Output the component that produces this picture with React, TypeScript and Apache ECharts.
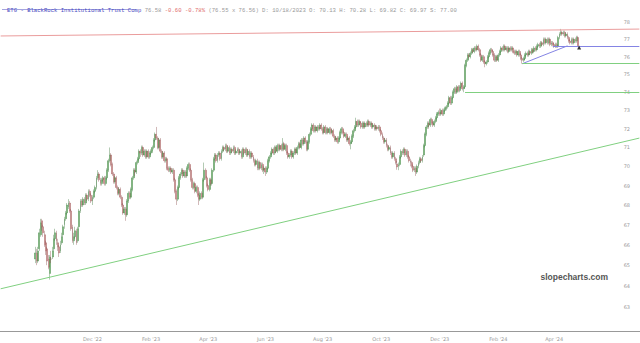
import React, { useEffect, useRef } from 'react';
import * as echarts from 'echarts';

type Candle = [number, number, number, number]; // open, high, low, close

const oct22: Candle[] = [
  [65.3,65.9,65.1,65.6],[65.6,65.8,65.0,65.2],[65.2,65.9,65.1,65.7],[65.8,66.8,65.7,66.6],[66.5,67.3,66.4,67.1],[67.2,67.3,66.7,66.9],[66.9,67.0,66.4,66.6],[66.5,66.7,65.9,66.0],[66.1,66.2,65.5,65.7],[65.8,65.9,65.0,65.2],[65.3,65.5,64.8,64.9],[64.6,65.5,64.3,65.4],[65.3,65.7,65.1,65.3],[65.4,65.9,65.3,65.7],[65.8,66.5,65.7,66.3],[66.3,66.8,66.2,66.6],[66.6,66.7,66.0,66.2],[66.1,66.3,65.7,65.9],[65.9,66.0,65.4,65.6],[65.7,66.2,65.6,66.0],[66.1,66.6,66.0,66.4],
];
const nov22: Candle[] = [
  [66.5,67.0,66.4,66.9],[67.0,67.4,66.8,67.3],[67.3,67.7,67.2,67.6],[67.6,68.1,67.5,68.0],[67.9,68.3,67.8,68.1],[68.1,68.2,67.6,67.7],[67.7,67.8,66.7,66.8],[66.9,67.0,66.1,66.2],[66.2,66.6,66.0,66.4],[66.4,66.9,66.3,66.7],[66.7,66.8,66.0,66.1],[66.2,66.9,66.1,66.8],[66.9,67.8,66.8,67.7],[67.7,68.3,67.6,68.2],[68.2,68.3,67.9,68.0],[68.0,68.4,67.9,68.3],[68.3,68.4,68.0,68.1],[68.1,68.6,68.0,68.5],[68.5,68.6,68.2,68.3],[68.3,68.8,68.2,68.7],[68.7,68.8,68.4,68.5],[68.5,68.6,68.1,68.2],
];
const dec22: Candle[] = [
  [68.2,68.5,68.0,68.4],[68.4,68.8,68.3,68.7],[68.7,69.0,68.6,68.9],[68.9,69.5,68.8,69.4],[69.4,69.8,69.3,69.6],[69.6,69.7,69.2,69.3],[69.3,69.4,69.0,69.1],[69.1,69.4,69.0,69.3],[69.3,69.5,69.2,69.4],[69.4,69.5,69.0,69.1],[69.1,69.5,69.0,69.4],[69.4,69.9,69.3,69.8],[69.8,70.4,69.7,70.3],[70.3,71.0,70.2,70.6],[70.6,70.7,70.0,70.1],[70.1,70.2,69.5,69.6],[69.6,69.7,69.1,69.2],[69.2,69.5,69.1,69.4],[69.4,69.5,68.8,68.9],[68.9,69.0,68.5,68.6],[68.6,68.9,68.5,68.8],[68.8,68.9,68.3,68.4],
];
const jan23: Candle[] = [
  [68.4,68.5,67.9,68.0],[68.0,68.1,67.5,67.6],[67.6,67.9,67.5,67.8],[67.8,67.9,67.2,67.5],[67.5,68.3,67.4,68.2],[68.2,68.7,68.1,68.6],[68.6,68.7,68.3,68.4],[68.4,68.9,68.3,68.8],[68.8,69.5,68.7,69.4],[69.4,69.9,69.3,69.8],[69.8,69.9,69.5,69.7],[69.7,70.3,69.6,70.2],[70.2,70.5,70.1,70.4],[70.4,70.9,70.3,70.8],[70.8,70.9,70.5,70.7],[70.7,71.1,70.6,71.0],[71.0,71.1,70.5,70.6],[70.6,70.9,70.5,70.8],[70.8,70.9,70.4,70.5],[70.5,70.9,70.4,70.8],[70.8,70.9,70.4,70.5],[70.5,70.8,70.4,70.7],
];
const feb23: Candle[] = [
  [70.7,70.9,70.6,70.8],[70.8,71.1,70.7,71.0],[71.0,71.5,70.9,71.4],[71.4,71.8,71.3,71.7],[71.7,72.1,71.4,71.5],[71.5,71.6,70.9,71.0],[71.0,71.5,70.9,71.4],[71.4,71.5,70.7,70.8],[70.8,70.9,70.4,70.5],[70.5,70.8,70.4,70.7],[70.7,70.8,70.2,70.3],[70.3,70.5,70.2,70.4],[70.4,70.5,69.8,69.9],[69.9,70.0,69.7,69.8],[69.8,70.0,69.7,69.9],[69.9,70.0,69.6,69.7],[69.7,69.9,69.6,69.8],[69.8,69.9,69.2,69.3],[69.3,69.4,68.6,68.7],[68.7,68.8,68.0,68.3],
];
const mar23: Candle[] = [
  [68.3,69.0,68.2,68.9],[68.9,69.5,68.8,69.4],[69.4,69.7,69.3,69.6],[69.6,69.9,69.5,69.8],[69.8,69.9,69.4,69.5],[69.5,69.8,69.4,69.7],[69.7,69.8,69.4,69.5],[69.5,70.0,69.4,69.9],[69.9,70.2,69.8,70.1],[70.1,70.2,69.7,69.8],[69.8,69.9,69.2,69.3],[69.3,69.4,68.8,68.9],[68.9,69.2,68.8,69.1],[69.1,69.2,68.6,68.7],[68.7,69.0,68.6,68.9],[68.9,69.0,68.4,68.5],[68.5,68.6,68.0,68.3],[68.3,68.7,68.2,68.6],[68.6,68.7,68.3,68.4],[68.4,69.4,68.3,69.3],[69.3,70.2,69.2,69.8],[69.8,69.9,69.3,69.4],[69.4,69.5,68.9,69.0],
];
const apr23: Candle[] = [
  [69.0,69.1,68.7,68.8],[68.8,69.4,68.7,69.3],[69.3,69.4,69.0,69.1],[69.1,69.9,69.0,69.8],[69.8,70.5,69.7,70.4],[70.4,70.7,70.3,70.6],[70.6,70.7,70.2,70.3],[70.3,70.7,70.2,70.6],[70.6,70.8,70.5,70.7],[70.7,70.8,70.3,70.4],[70.4,70.9,70.3,70.8],[70.8,71.1,70.7,71.0],[71.0,71.1,70.8,70.9],[70.9,71.2,70.8,71.1],[71.1,71.2,70.7,70.8],[70.8,71.1,70.7,71.0],[71.0,71.1,70.6,70.7],[70.7,71.0,70.6,70.9],[70.9,71.0,70.7,70.8],[70.8,71.1,70.7,71.0],
];
const may23: Candle[] = [
  [71.0,71.1,70.6,70.7],[70.7,70.9,70.6,70.8],[70.8,71.0,70.7,70.9],[70.9,71.0,70.6,70.7],[70.7,70.9,70.6,70.8],[70.8,70.9,70.4,70.5],[70.5,71.0,70.4,70.9],[70.9,71.0,70.6,70.7],[70.7,71.0,70.6,70.9],[70.9,71.0,70.5,70.6],[70.6,70.9,70.5,70.8],[70.8,70.9,70.4,70.5],[70.5,70.8,70.4,70.7],[70.7,70.8,70.4,70.5],[70.5,70.6,70.2,70.3],[70.3,70.4,70.0,70.1],[70.1,70.4,70.0,70.3],[70.3,70.4,69.8,69.9],[69.9,70.3,69.8,70.2],[70.2,70.3,69.8,69.9],[69.9,70.2,69.8,70.1],[70.1,70.2,69.7,69.8],[69.8,70.0,69.6,69.9],
];
const jun23: Candle[] = [
  [69.9,70.0,69.5,69.7],[69.7,70.0,69.6,69.9],[69.9,70.4,69.8,70.3],[70.3,70.6,70.2,70.5],[70.5,70.8,70.4,70.7],[70.7,71.0,70.6,70.9],[70.9,71.0,70.6,70.7],[70.7,71.1,70.6,71.0],[71.0,71.1,70.7,70.8],[70.8,71.2,70.7,71.1],[71.1,71.2,70.8,70.9],[70.9,71.2,70.8,71.1],[71.1,71.2,70.8,70.9],[70.9,71.5,70.8,71.2],[71.2,71.3,70.8,70.9],[70.9,71.2,70.8,71.1],[71.1,71.2,70.6,70.7],[70.7,70.8,70.4,70.5],[70.5,70.7,70.4,70.6],[70.6,70.9,70.5,70.8],[70.8,70.9,70.4,70.5],[70.5,70.8,70.4,70.7],
];
const jul23: Candle[] = [
  [70.7,71.0,70.6,70.9],[70.9,71.0,70.6,70.7],[70.7,71.1,70.6,71.0],[71.0,71.3,70.9,71.2],[71.2,71.3,70.9,71.0],[71.0,71.5,70.9,71.4],[71.4,71.5,71.1,71.2],[71.2,71.6,71.1,71.5],[71.5,71.6,71.2,71.3],[71.3,71.4,70.8,70.9],[70.9,71.4,70.8,71.3],[71.3,71.8,71.2,71.7],[71.7,72.1,71.6,72.0],[72.0,72.3,71.9,72.2],[72.2,72.3,71.8,71.9],[71.9,72.2,71.8,72.1],[72.1,72.2,71.8,71.9],[71.9,72.2,71.8,72.1],[72.1,72.2,71.9,72.0],[72.0,72.3,71.9,72.2],[72.2,72.3,71.9,72.0],
];
const aug23: Candle[] = [
  [72.0,72.1,71.7,71.8],[71.8,72.2,71.7,72.1],[72.1,72.2,71.7,71.8],[71.8,72.1,71.7,72.0],[72.0,72.1,71.7,71.8],[71.8,72.1,71.7,72.0],[72.0,72.1,71.7,71.8],[71.8,72.0,71.7,71.9],[71.9,72.0,71.5,71.6],[71.6,71.7,71.3,71.4],[71.4,71.6,71.3,71.5],[71.5,71.6,71.2,71.3],[71.3,71.6,71.2,71.5],[71.5,71.9,71.4,71.8],[71.8,72.1,71.7,72.0],[72.0,72.1,71.7,71.8],[71.8,71.9,71.5,71.6],[71.6,71.8,71.5,71.7],[71.7,71.8,71.3,71.4],[71.4,71.6,71.3,71.5],[71.5,71.6,71.1,71.2],[71.2,71.4,70.9,71.3],[71.3,71.7,71.2,71.6],
];
const sep23: Candle[] = [
  [71.6,72.0,71.5,71.9],[71.9,72.2,71.8,72.1],[72.1,72.6,72.0,72.4],[72.4,72.5,72.1,72.2],[72.2,72.5,72.1,72.4],[72.4,72.5,72.2,72.3],[72.3,72.4,72.0,72.1],[72.1,72.4,72.0,72.3],[72.3,72.4,72.0,72.1],[72.1,72.4,72.0,72.3],[72.3,72.4,72.1,72.2],[72.2,72.5,72.1,72.4],[72.4,72.5,72.1,72.2],[72.2,72.4,72.1,72.3],[72.3,72.4,72.0,72.1],[72.1,72.3,72.0,72.2],[72.2,72.3,71.9,72.0],[72.0,72.2,71.9,72.1],[72.1,72.2,71.9,72.0],[72.0,72.2,71.9,72.1],[72.1,72.2,71.8,71.9],
];
const oct23: Candle[] = [
  [71.9,72.0,71.6,71.7],[71.7,71.8,71.4,71.5],[71.5,71.6,71.2,71.3],[71.3,71.5,71.2,71.4],[71.4,71.5,71.0,71.1],[71.1,71.2,70.8,70.9],[70.9,71.1,70.8,71.0],[71.0,71.1,70.6,70.7],[70.7,70.8,70.4,70.5],[70.5,70.8,70.4,70.7],[70.7,70.8,70.3,70.4],[70.4,70.5,70.1,70.2],[70.13,70.28,69.82,69.97],[70.0,70.2,69.8,70.1],[70.1,70.6,70.0,70.5],[70.5,70.9,70.4,70.8],[70.8,70.9,70.6,70.7],[70.7,71.0,70.6,70.9],[70.9,71.0,70.5,70.6],[70.6,70.9,70.5,70.8],[70.8,70.9,70.4,70.5],[70.5,70.6,70.2,70.3],
];
const nov23: Candle[] = [
  [70.3,70.4,70.0,70.2],[70.2,70.3,69.9,70.0],[70.0,70.1,69.7,69.8],[69.8,70.0,69.7,69.9],[69.9,70.0,69.5,69.7],[69.7,70.1,69.6,70.0],[70.0,70.3,69.9,70.2],[70.2,70.5,70.1,70.4],[70.4,70.5,70.2,70.3],[70.3,70.6,70.2,70.5],[70.6,71.2,70.5,71.1],[71.1,71.8,71.0,71.7],[71.7,72.2,71.6,72.1],[72.1,72.4,72.0,72.3],[72.3,72.4,72.0,72.2],[72.2,72.6,72.1,72.5],[72.5,72.6,72.2,72.3],[72.3,72.4,72.1,72.2],[72.2,72.5,72.1,72.4],[72.4,72.7,72.3,72.6],[72.6,72.9,72.5,72.8],[72.8,73.0,72.7,72.9],
];
const dec23: Candle[] = [
  [72.9,73.1,72.7,72.8],[72.8,73.1,72.7,73.0],[73.0,73.1,72.7,72.8],[72.8,73.1,72.7,73.0],[73.0,73.2,72.9,73.1],[73.1,73.3,73.0,73.2],[73.2,73.5,73.1,73.4],[73.4,73.8,73.3,73.7],[73.7,73.8,73.3,73.4],[73.4,73.8,73.3,73.7],[73.7,74.1,73.6,74.0],[74.0,74.3,73.9,74.2],[74.2,74.3,73.9,74.0],[74.0,74.4,73.9,74.3],[74.3,74.4,74.0,74.1],[74.1,74.4,74.0,74.3],[74.3,74.6,74.2,74.5],[74.5,74.6,74.1,74.2],[74.2,74.4,74.0,74.3],[74.3,75.6,74.2,75.5],[75.5,75.9,75.4,75.8],
];
const jan24: Candle[] = [
  [75.8,76.2,75.7,76.1],[76.1,76.2,75.9,76.0],[76.0,76.3,75.9,76.2],[76.2,76.5,76.1,76.4],[76.4,76.5,76.2,76.3],[76.3,76.6,76.2,76.5],[76.5,76.6,76.3,76.4],[76.4,76.7,76.3,76.6],[76.6,76.7,76.3,76.4],[76.4,76.5,76.0,76.1],[76.1,76.2,75.7,75.8],[75.8,76.1,75.7,76.0],[76.0,76.1,75.6,75.7],[75.7,75.8,75.4,75.6],[75.6,75.8,75.5,75.7],[75.7,76.1,75.6,76.0],[76.0,76.3,75.9,76.2],[76.2,76.5,76.1,76.4],[76.4,76.5,76.2,76.3],[76.3,76.4,76.0,76.1],[76.1,76.2,75.7,75.8],[75.8,76.1,75.7,76.0],[76.0,76.1,75.7,75.8],
];
const feb24: Candle[] = [
  [75.8,76.2,75.7,76.1],[76.1,76.4,76.0,76.3],[76.3,76.6,76.2,76.5],[76.5,76.6,76.3,76.4],[76.4,76.7,76.3,76.6],[76.6,76.7,76.3,76.4],[76.4,76.6,76.3,76.5],[76.5,76.6,76.2,76.3],[76.3,76.6,76.2,76.5],[76.5,76.6,76.3,76.4],[76.4,76.6,76.3,76.5],[76.5,76.6,76.2,76.3],[76.3,76.4,76.1,76.2],[76.2,76.4,76.1,76.3],[76.3,76.4,76.0,76.1],[76.1,76.4,76.0,76.3],[76.3,76.4,76.0,76.1],[76.1,76.2,75.8,75.9],[75.9,76.0,75.6,75.8],[75.8,76.0,75.7,75.9],[75.9,76.2,75.8,76.1],
];
const mar24: Candle[] = [
  [76.1,76.3,76.0,76.2],[76.2,76.3,76.0,76.1],[76.1,76.4,76.0,76.3],[76.3,76.4,76.1,76.2],[76.2,76.5,76.1,76.4],[76.4,76.5,76.2,76.3],[76.3,76.6,76.2,76.5],[76.5,76.6,76.3,76.4],[76.4,76.7,76.3,76.6],[76.6,76.8,76.5,76.7],[76.7,76.8,76.5,76.6],[76.6,76.9,76.5,76.8],[76.8,76.9,76.6,76.7],[76.7,77.1,76.6,77.0],[77.0,77.1,76.7,76.8],[76.8,77.1,76.7,77.0],[77.0,77.1,76.7,76.8],[76.8,77.1,76.7,77.0],[77.0,77.1,76.6,76.7],[76.7,76.9,76.6,76.8],[76.8,76.9,76.6,76.7],
];
const apr24: Candle[] = [
  [76.7,76.8,76.5,76.6],[76.6,76.8,76.5,76.7],[76.7,76.8,76.5,76.6],[76.6,77.2,76.5,77.1],[77.1,77.4,77.0,77.3],[77.3,77.6,77.2,77.4],[77.4,77.5,77.2,77.3],[77.3,77.5,77.2,77.4],[77.4,77.5,77.1,77.2],[77.2,77.4,77.1,77.3],[77.3,77.4,77.0,77.1],[77.1,77.2,76.8,76.9],[76.9,77.0,76.7,76.8],[76.8,77.1,76.7,77.0],[77.0,77.1,76.7,76.8],[76.8,77.1,76.7,77.0],[77.0,77.1,76.8,76.9],[76.9,77.2,76.8,77.1],[77.1,77.2,76.55,76.58],
];

const candleMonths: Candle[][] = [oct22, nov22, dec22, jan23, feb23, mar23, apr23, may23, jun23, jul23, aug23, sep23, oct23, nov23, dec23, jan24, feb24, mar24, apr24];
const firstTradingDay = '2022-10-03';

const priceTicks = [63, 64, 65, 66, 67, 68, 69, 70, 71, 72, 73, 74, 75, 76, 77, 78];
const labelMonths = [1, 3, 5, 7, 9, 11];
const monthNames = ['Jan', 'Feb', 'Mar', 'Apr', 'May', 'Jun', 'Jul', 'Aug', 'Sep', 'Oct', 'Nov', 'Dec'];

// drawn studies (prices; candle indices)
const resistanceTrend = [77.19, 77.59];
const supportTrend = [63.86, 71.5];
const blueTrendIdx = [366, 400];
const blueTrendPrices = [75.6, 76.62];
const levelStartIdx = [389, 366, 323];
const levelPrices = [76.62, 75.6, 74.0];
const lastMarkerPrice = 76.58;

const headerTicker = 'ETG - BlackRock Institutional Trust Comp';
const headerLast = '76.58';
const headerChange = '-0.60 -0.78%';
const headerRest = '(76.55 x 76.56) D: 10/18/2023 O: 70.13 H: 70.28 L: 69.82 C: 69.97 S: 77.00';
const watermark = 'slopecharts.com';

// layout
const PAD_BEFORE = 26;
const PAD_AFTER = 46;
const AXIS_TOP_PRICE = 78.59;
const AXIS_BOTTOM_PRICE = 61.87;
const HEADER_FONT = 5.6;

function iso(t: number) {
  return new Date(t).toISOString().slice(0, 10);
}
function isWeekday(t: number) {
  const w = new Date(t).getUTCDay();
  return w !== 0 && w !== 6;
}

function buildOption() {
  const candles = candleMonths.flat();
  const N = candles.length;
  const DAY = 86400000;
  const [y, m, d] = firstTradingDay.split('-').map(Number);
  const t0 = Date.UTC(y, m - 1, d);
  const before: string[] = [];
  let t = t0;
  while (before.length < PAD_BEFORE) {
    t -= DAY;
    if (isWeekday(t)) before.unshift(iso(t));
  }
  const after: string[] = [];
  t = t0;
  while (after.length < N + PAD_AFTER) {
    if (isWeekday(t)) after.push(iso(t));
    t += DAY;
  }
  const dates = before.concat(after);
  const M = dates.length;
  const L = Math.log;
  const month = (v: string) => Number(v.slice(5, 7)) - 1;

  const seriesData: any[] = dates.map((_, i) => {
    const k = i - PAD_BEFORE;
    if (k < 0 || k >= N) return '-';
    const [o, h, l, c] = candles[k];
    return [L(o), L(c), L(l), L(h)];
  });

  const cat = (k: number) => dates[k + PAD_BEFORE];
  const first = dates[0];
  const last = dates[M - 1];
  const seg = (x0: string, p0: number, x1: string, p1: number, color: string) => [
    { coord: [x0, L(p0)], lineStyle: { color, width: 1, type: 'solid' } },
    { coord: [x1, L(p1)] },
  ];
  const levelColors = ['#8484e4', '#80d080', '#80d080'];

  return {
    animation: false,
    backgroundColor: '#ffffff',
    title: {
      left: 2,
      top: 2,
      text: `{a|${headerTicker}} {g|${headerLast}} {r|${headerChange}} {g|${headerRest}}`,
      textStyle: {
        fontFamily: 'Liberation Mono',
        fontSize: HEADER_FONT,
        fontWeight: 'normal',
        color: '#999',
        rich: {
          a: { color: '#4848c0', fontFamily: 'Liberation Mono', fontSize: HEADER_FONT },
          g: { color: '#999999', fontFamily: 'Liberation Mono', fontSize: HEADER_FONT },
          r: { color: '#e06a6a', fontFamily: 'Liberation Mono', fontSize: HEADER_FONT },
        },
      },
    },
    graphic: [
      {
        type: 'line',
        shape: { x1: 2, y1: 9.5, x2: 2 + headerTicker.length * HEADER_FONT * 0.6, y2: 9.5 },
        style: { stroke: '#4848c0', lineWidth: 0.5 },
        silent: true,
      },
      {
        type: 'text',
        right: 32,
        top: 272,
        style: { text: watermark, font: 'bold 8.5px "Liberation Sans"', fill: '#555' },
        silent: true,
      },
    ],
    grid: { left: 0, right: 0, top: 12, bottom: 12, containLabel: false, outerBoundsMode: 'none' },
    xAxis: {
      type: 'category',
      data: dates,
      boundaryGap: true,
      axisLine: { show: true, lineStyle: { color: '#999', width: 1 } },
      axisTick: { show: false },
      splitLine: { show: false },
      axisLabel: {
        interval: (i: number, v: string) =>
          i > PAD_BEFORE && i < PAD_BEFORE + N && labelMonths.includes(month(v)) && month(v) !== month(dates[i - 1]),
        formatter: (v: string) => `${monthNames[month(v)]} '${v.slice(2, 4)}`,
        fontSize: 5,
        color: '#999',
        margin: 5,
        fontFamily: 'DejaVu Sans',
      },
    },
    yAxis: {
      type: 'value',
      position: 'right',
      min: L(AXIS_BOTTOM_PRICE),
      max: L(AXIS_TOP_PRICE),
      scale: true,
      axisLine: { show: false },
      axisTick: { show: false },
      splitLine: { show: false },
      axisLabel: {
        inside: true,
        customValues: priceTicks.map((p) => L(p)),
        formatter: (v: number) => String(Math.round(Math.exp(v))),
        fontSize: 5,
        color: '#999',
        margin: 10,
        fontFamily: 'DejaVu Sans',
      },
    },
    series: [
      {
        type: 'candlestick',
        data: seriesData,
        barWidth: 1.4,
        itemStyle: {
          color: '#62b862',
          color0: '#e08a8a',
          borderColor: '#3f7a3f',
          borderColor0: '#8a4f4f',
          borderWidth: 0.4,
        },
        markLine: {
          silent: true,
          symbol: ['none', 'none'],
          label: { show: false },
          emphasis: { disabled: true },
          data: [
            seg(first, resistanceTrend[0], last, resistanceTrend[1], '#ea9c9c'),
            seg(first, supportTrend[0], last, supportTrend[1], '#80d080'),
            seg(cat(blueTrendIdx[0]), blueTrendPrices[0], cat(blueTrendIdx[1]), blueTrendPrices[1], '#8484e4'),
            ...levelStartIdx.map((s, i) => seg(cat(s), levelPrices[i], last, levelPrices[i], levelColors[i])),
          ],
        },
        markPoint: {
          silent: true,
          symbol: 'triangle',
          symbolSize: 4,
          symbolOffset: [1, 1],
          label: { show: false },
          itemStyle: { color: '#333' },
          data: [{ coord: [cat(N - 1), L(lastMarkerPrice)] }],
        },
      },
    ],
  };
}

export default function App() {
  const ref = useRef<HTMLDivElement>(null);
  useEffect(() => {
    document.body.style.margin = '0';
    if (!ref.current) return;
    const chart = echarts.init(ref.current, undefined, { renderer: 'svg' });
    chart.setOption(buildOption() as any);
    return () => chart.dispose();
  }, []);
  return <div ref={ref} style={{ width: 640, height: 343 }} />;
}
